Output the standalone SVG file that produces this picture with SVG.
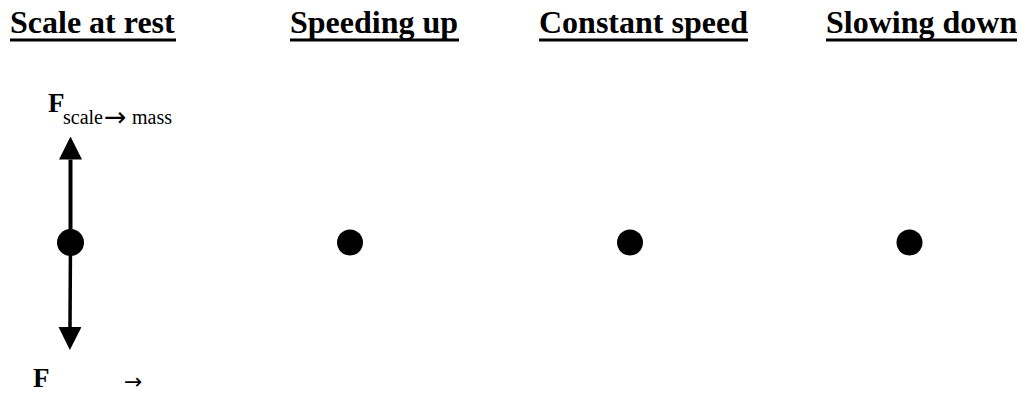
<svg xmlns="http://www.w3.org/2000/svg" width="1021" height="396" viewBox="0 0 1021 396">
  <style>
    .title { font-family: "Liberation Serif", "Times New Roman", serif; font-weight: bold; font-size: 32px; fill: #000; }
    .rule { stroke: #000; stroke-width: 3; }
    .dot { fill: #000; }
    .force { stroke: #000; fill: none; }
    .sym { font-family: "Liberation Serif", "Times New Roman", serif; font-weight: bold; font-size: 27px; fill: #000; }
    .sub { font-family: "Liberation Serif", "Times New Roman", serif; font-size: 20px; fill: #000; }
    .arr { font-family: "DejaVu Sans", sans-serif; fill: #000; }
  </style>
  <defs>
    <marker id="head" viewBox="0 0 23 23" refX="0" refY="11.5" markerWidth="23" markerHeight="23" markerUnits="userSpaceOnUse" orient="auto">
      <path d="M0,0 L23,11.5 L0,23 Z" fill="#000"/>
    </marker>
  </defs>

  <!-- column headings -->
  <g id="heading-rest">
    <text class="title" x="10" y="33">Scale at rest</text>
    <line class="rule" x1="10" y1="40" x2="176" y2="40"/>
  </g>
  <g id="heading-speeding">
    <text class="title" x="290" y="33">Speeding up</text>
    <line class="rule" x1="290" y1="40" x2="459" y2="40"/>
  </g>
  <g id="heading-constant">
    <text class="title" x="539" y="33">Constant speed</text>
    <line class="rule" x1="539" y1="40" x2="748" y2="40"/>
  </g>
  <g id="heading-slowing">
    <text class="title" x="826" y="33">Slowing down</text>
    <line class="rule" x1="826" y1="40" x2="1017" y2="40"/>
  </g>

  <!-- force vectors -->
  <g id="connectors">
    <line class="force" x1="70.5" y1="242" x2="70.5" y2="159.5" stroke-width="4" marker-end="url(#head)"/>
    <line class="force" x1="70.5" y1="242" x2="70" y2="327" stroke-width="3.5" marker-end="url(#head)"/>
  </g>

  <!-- masses -->
  <g id="mass-rest"><circle class="dot" cx="70.5" cy="242.5" r="13.5"/></g>
  <g id="mass-speeding"><circle class="dot" cx="350" cy="242.5" r="13"/></g>
  <g id="mass-constant"><circle class="dot" cx="630" cy="242.5" r="13"/></g>
  <g id="mass-slowing"><circle class="dot" cx="909.5" cy="242.5" r="13"/></g>

  <!-- force labels -->
  <g id="label-up">
    <text class="sym" x="48" y="112">F</text>
    <text class="sub" x="63" y="124">scale</text>
    <text class="arr" x="104" y="126" font-size="27">→</text>
    <text class="sub" x="132" y="124">mass</text>
  </g>
  <g id="label-down">
    <text class="sym" x="33" y="387">F</text>
    <text class="arr" x="124" y="389" font-size="22">→</text>
  </g>
</svg>
